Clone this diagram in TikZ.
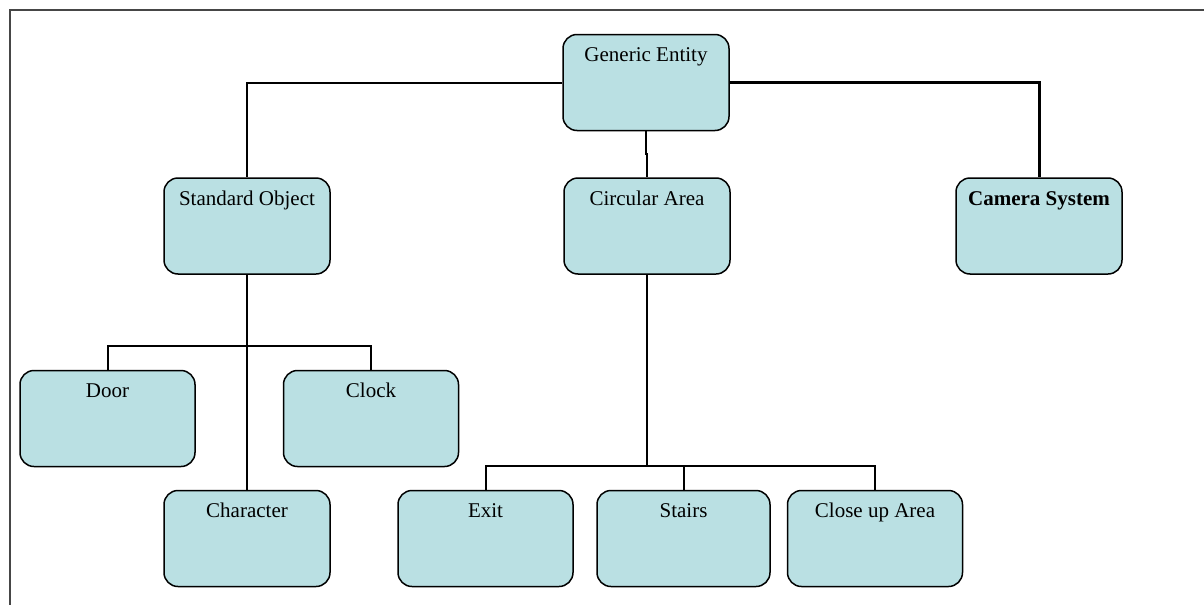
\documentclass[tikz,border=0pt]{standalone}
\usepackage{fontspec}
\setmainfont{Liberation Serif}
\definecolor{boxfill}{RGB}{186,224,227}
\definecolor{framegray}{RGB}{70,70,70}
\tikzset{
  unitbox/.style={draw=black, fill=boxfill, rounded corners=14pt, line width=1.5pt,
    inner sep=0pt, minimum height=96pt, text height=27pt, text depth=69pt,
    font=\fontsize{21}{25}\selectfont, align=center},
  w166/.style={unitbox, minimum width=166pt},
  w175/.style={unitbox, minimum width=175pt},
  link/.style={draw=black, line width=2pt},
  thicklink/.style={draw=black, line width=3pt},
}
\begin{document}
\begin{tikzpicture}[x=1pt, y=-1pt]
\useasboundingbox (0,0) rectangle (1204,605);
% outer frame (top and left edges only)
\draw[framegray, line width=1.4pt] (1204,10) -- (10,10) -- (10,605);

% boxes
\node[w166] (gen)    at (646,82.5)  {Generic Entity};
\node[w166] (std)    at (247,226)   {Standard Object};
\node[w166] (circ)   at (647,226)   {Circular Area};
\node[w166] (cam)    at (1039,226)  {\textbf{Camera System}};
\node[w175] (door)   at (107.5,418.5) {Door};
\node[w175] (clock)  at (371,418.5) {Clock};
\node[w166] (char)   at (247,538.5) {Character};
\node[w175] (exit)   at (485.5,538.5) {Exit};
\node[unitbox, minimum width=173pt] (stairs) at (683.5,538.5) {Stairs};
\node[w175] (close)  at (875,538.5) {Close up Area};

% junction points
\coordinate (jstd) at (247,346);
\coordinate (jcirc) at (647,466);

% connectors from the root
\draw[link] (gen.west) -| (std.north);
\draw[thicklink] (gen.east) -| (cam.north);
\draw[link] (gen.south) -- ++(0,23) -- ++(1,0) -- (circ.north);

% standard object branch
\draw[link] (std.south) -- (char.north);
\draw[link] (door.north) |- (jstd) -| (clock.north);

% circular area branch
\draw[link] (circ.south) -- (jcirc);
\draw[link] (exit.north) |- (jcirc) -| (close.north);
\draw[link] (stairs.north) -- (stairs.north |- jcirc);
\end{tikzpicture}
\end{document}
